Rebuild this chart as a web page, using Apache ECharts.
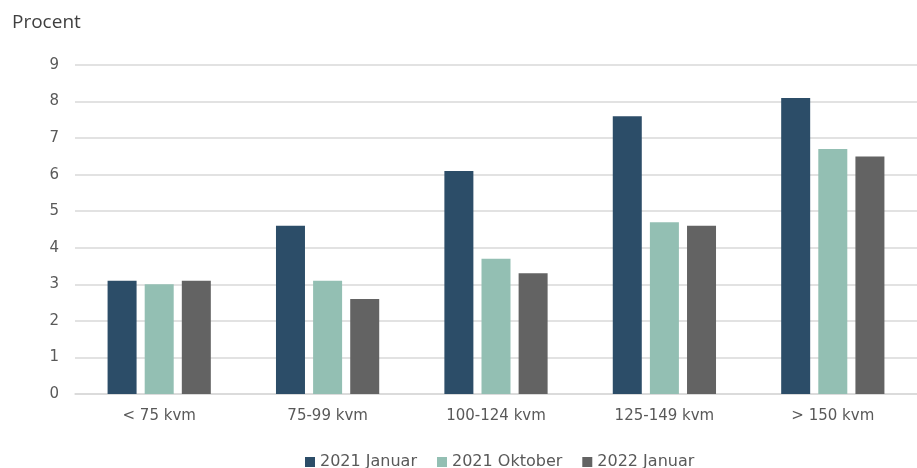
<!DOCTYPE html>
<html>
<head>
<meta charset="utf-8">
<script src="https://cdn.jsdelivr.net/npm/echarts@6/dist/echarts.min.js"></script>
<style>
  html, body { margin: 0; padding: 0; background: #fff; }
  #chart { width: 917px; height: 468px; }
</style>
</head>
<body>
<div id="chart"></div>
<script>
const categories = ['< 75 kvm', '75-99 kvm', '100-124 kvm', '125-149 kvm', '> 150 kvm'];
const jan2021 = [3.1, 4.6, 6.1, 7.6, 8.1];
const okt2021 = [3.0, 3.1, 3.7, 4.7, 6.7];
const jan2022 = [3.1, 2.6, 3.3, 4.6, 6.5];
const seriesNames = ['2021 Januar', '2021 Oktober', '2022 Januar'];
const colors = ['#2c4d68', '#93bfb3', '#636363'];

const font = 'Verdana, "DejaVu Sans", sans-serif';
const chart = echarts.init(document.getElementById('chart'), null, { renderer: 'canvas' });

const mkSeries = (name, data, color) => ({
  name, type: 'bar', data,
  barWidth: 29, barGap: '28%',
  itemStyle: { color },
  emphasis: { disabled: true }
});

chart.setOption({
  animation: false,
  color: colors,
  grid: { left: 75, right: 0, top: 65, bottom: 74, containLabel: false },
  graphic: [{
    type: 'text', left: 12, top: 13,
    style: { text: 'Procent', fill: '#404040', fontSize: 19, fontFamily: '"Open Sans", sans-serif' }
  }],
  legend: {
    top: 449, left: 300,
    itemWidth: 10, itemHeight: 10, itemGap: 20,
    icon: 'rect',
    textStyle: { color: '#595959', fontSize: 16, fontFamily: font },
    data: seriesNames
  },
  xAxis: {
    type: 'category', data: categories,
    axisTick: { show: false },
    axisLine: { lineStyle: { color: '#d9d9d9', width: 1.5 } },
    axisLabel: { color: '#595959', fontSize: 15, fontFamily: font, margin: 15 }
  },
  yAxis: {
    type: 'value', min: 0, max: 9, interval: 1,
    axisLine: { show: false }, axisTick: { show: false },
    splitLine: { lineStyle: { color: '#d9d9d9', width: 1.5 } },
    axisLabel: { color: '#595959', fontSize: 15, fontFamily: font, margin: 16 }
  },
  series: [
    mkSeries(seriesNames[0], jan2021, colors[0]),
    mkSeries(seriesNames[1], okt2021, colors[1]),
    mkSeries(seriesNames[2], jan2022, colors[2])
  ]
});
</script>
</body>
</html>
